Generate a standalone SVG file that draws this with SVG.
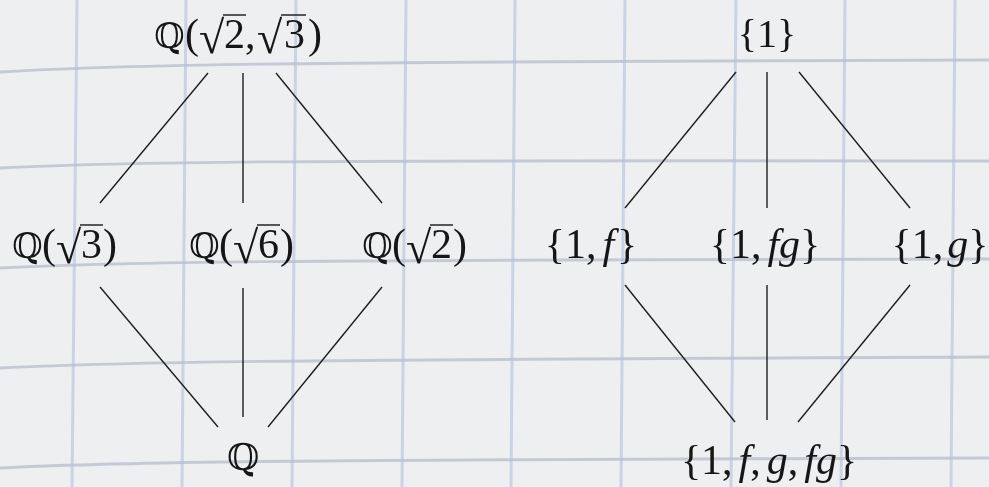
<svg xmlns="http://www.w3.org/2000/svg" width="989" height="487" viewBox="0 0 989 487">
<defs>
<filter id="soft" x="-5%" y="-5%" width="110%" height="110%"><feGaussianBlur stdDeviation="0.7"/></filter>
</defs>
<style>
.t{font-family:"Liberation Serif","Times New Roman",Times,serif;font-size:42px;fill:#161616}
.bb{font-family:"DejaVu Serif","DejaVu Sans",serif;font-size:35px}
.r{font-size:46px}
.i{font-style:italic}
.v{stroke:#161616;stroke-width:1.4;fill:none}
.e line{stroke:#1e1e1e;stroke-width:1.4}
.gv line{stroke:#c9d3e4;stroke-width:3}
.gh path{stroke:#b9c0cd;stroke-width:3;fill:none;opacity:.8}
</style>
<rect width="989" height="487" fill="#eeeff1"/>
<g filter="url(#soft)">
<g class="gv">
<line x1="77" y1="0" x2="72" y2="487"/>
<line x1="186" y1="0" x2="182" y2="487"/>
<line x1="296" y1="0" x2="292" y2="487"/>
<line x1="406" y1="0" x2="402" y2="487"/>
<line x1="515" y1="0" x2="511" y2="487"/>
<line x1="625" y1="0" x2="621" y2="487"/>
<line x1="736" y1="0" x2="731" y2="487"/>
<line x1="845" y1="0" x2="841" y2="487"/>
<line x1="955" y1="0" x2="951" y2="487"/>
</g>
<g class="gh">
<path d="M0 72 C120 65 250 62 989 60"/>
<path d="M0 168 C120 162 250 160 989 161"/>
<path d="M0 268 C120 262 250 260 989 259"/>
<path d="M0 368 C120 362 250 360 989 357"/>
<path d="M0 468 C120 462 250 460 989 458"/>
</g>
</g>
<g class="e" id="connectors">
<line x1="208" y1="73" x2="100" y2="203"/>
<line x1="243" y1="73" x2="243" y2="203"/>
<line x1="276" y1="73" x2="382" y2="203"/>
<line x1="100" y1="287" x2="218" y2="427"/>
<line x1="243" y1="288" x2="243" y2="417"/>
<line x1="382" y1="287" x2="268" y2="427"/>
<line x1="736" y1="72" x2="625" y2="208"/>
<line x1="767" y1="72" x2="767" y2="208"/>
<line x1="799" y1="72" x2="910" y2="208"/>
<line x1="625" y1="285" x2="735" y2="422"/>
<line x1="767" y1="285" x2="767" y2="420"/>
<line x1="910" y1="285" x2="798" y2="422"/>
</g>
<g id="n-q23">
<text class="t" y="48"><tspan class="bb" x="154">ℚ</tspan><tspan x="185">(</tspan><tspan class="r" x="199" y="53">√</tspan><tspan x="224" y="48">2</tspan><tspan x="245">,</tspan><tspan class="r" x="257" y="53">√</tspan><tspan x="284" y="48">3</tspan><tspan x="308">)</tspan></text>
<line class="v" x1="223" y1="15" x2="246" y2="15"/>
<line class="v" x1="281" y1="15" x2="306" y2="15"/>
</g>
<g id="n-q3">
<text class="t" y="258"><tspan class="bb" x="12">ℚ</tspan><tspan x="42">(</tspan><tspan class="r" x="56" y="263">√</tspan><tspan x="81" y="258">3</tspan><tspan x="103">)</tspan></text>
<line class="v" x1="80" y1="225" x2="103" y2="225"/>
</g>
<g id="n-q6">
<text class="t" y="258"><tspan class="bb" x="189">ℚ</tspan><tspan x="219">(</tspan><tspan class="r" x="233" y="263">√</tspan><tspan x="258" y="258">6</tspan><tspan x="280">)</tspan></text>
<line class="v" x1="257" y1="225" x2="280" y2="225"/>
</g>
<g id="n-q2">
<text class="t" y="258"><tspan class="bb" x="362">ℚ</tspan><tspan x="392">(</tspan><tspan class="r" x="406" y="263">√</tspan><tspan x="431" y="258">2</tspan><tspan x="453">)</tspan></text>
<line class="v" x1="430" y1="225" x2="453" y2="225"/>
</g>
<g id="n-q">
<text class="t" x="227" y="470"><tspan class="bb" style="font-size:37px">ℚ</tspan></text>
</g>
<g id="n-1">
<text class="t" x="767" y="47" text-anchor="middle" style="font-size:40px">{1}</text>
</g>
<g id="n-1f">
<text class="t" x="591" y="258" text-anchor="middle">{1,<tspan class="i" dx="6">f</tspan><tspan dx="3">}</tspan></text>
</g>
<g id="n-1fg">
<text class="t" x="765" y="258" text-anchor="middle">{1,<tspan class="i" dx="6">fg</tspan>}</text>
</g>
<g id="n-1g">
<text class="t" x="940" y="258" text-anchor="middle">{1,<tspan class="i" dx="4">g</tspan>}</text>
</g>
<g id="n-1fgfg">
<text class="t" x="769" y="474" text-anchor="middle">{1,<tspan class="i" dx="6">f</tspan>,<tspan class="i" dx="6">g</tspan>,<tspan class="i" dx="6">fg</tspan>}</text>
</g>
</svg>
